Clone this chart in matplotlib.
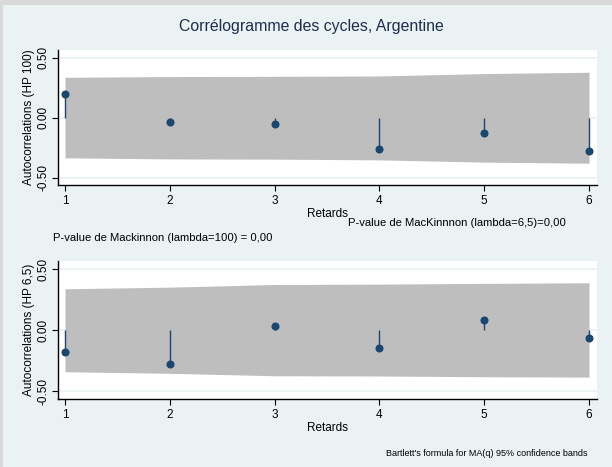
import matplotlib
matplotlib.use("Agg")
import matplotlib.pyplot as plt
from matplotlib.patches import Rectangle

plt.rcParams['font.family'] = ['Liberation Sans', 'DejaVu Sans']

# Data
lags = [1, 2, 3, 4, 5, 6]
ac_hp100 = [0.20, -0.036, -0.053, -0.263, -0.131, -0.279]
band_hi_hp100 = [0.338, 0.344, 0.346, 0.349, 0.369, 0.380]
band_lo_hp100 = [-0.335, -0.344, -0.346, -0.352, -0.371, -0.380]

ac_hp65 = [-0.178, -0.273, 0.036, -0.145, 0.087, -0.066]
band_hi_hp65 = [0.339, 0.352, 0.374, 0.377, 0.383, 0.388]
band_lo_hp65 = [-0.339, -0.352, -0.372, -0.374, -0.380, -0.383]

yticks = [-0.5, 0.0, 0.5]
ytick_labels = ["-0.50", "0.00", "0.50"]

W, H = 612, 467
navy = "#1a476f"
bg = "#eaf2f3"
band = "#bebebe"

fig = plt.figure(figsize=(W / 100, H / 100), dpi=100)
fig.patch.set_facecolor("#d9d9d9")
fig.patches.append(Rectangle((3 / W, 0), 1, (H - 5) / H, transform=fig.transFigure,
                             facecolor=bg, edgecolor="none", zorder=-10))


def px(x, y):
    return x / W, 1 - y / H


def panel(top, bottom, ac, hi, lo, ylabel):
    ax = fig.add_axes([58 / W, 1 - bottom / H, 539 / W, (bottom - top) / H])
    ax.set_zorder(5)
    ax.set_facecolor("white")
    ax.fill_between(lags, lo, hi, color=band, linewidth=0, zorder=2)
    for yv in yticks:
        ax.axhline(yv, color=bg, lw=1.2, zorder=1)
    ax.vlines(lags, 0, ac, color=navy, lw=1.0, zorder=3)
    ax.plot(lags, ac, "o", color=navy, ms=4.8, zorder=4)
    ax.set_xlim(0.933, 6.076)
    ax.set_ylim(-0.562, 0.566)
    ax.set_xticks(lags)
    ax.set_yticks(yticks)
    ax.set_yticklabels(ytick_labels, rotation=90, va="center")
    ax.tick_params(labelsize=8.5, length=4, width=0.8, colors="black", pad=3)
    ax.tick_params(axis="y", pad=2)
    for s in ["top", "right"]:
        ax.spines[s].set_visible(False)
    for s in ["left", "bottom"]:
        ax.spines[s].set_linewidth(1.0)
        ax.spines[s].set_color("black")
    ax.set_xlabel("Retards", fontsize=8.5, labelpad=1)
    ax.set_ylabel(ylabel, fontsize=8.5, labelpad=2)
    return ax


panel(50, 185, ac_hp100, band_hi_hp100, band_lo_hp100, "Autocorrelations (HP 100)")
panel(261, 399, ac_hp65, band_hi_hp65, band_lo_hp65, "Autocorrelations (HP 6,5)")

fig.text(*px(311, 27), "Corrélogramme des cycles, Argentine", ha="center", va="center",
         fontsize=11.4, color="#1e2d4d")
fig.text(*px(348, 223), "P-value de MacKinnnon (lambda=6,5)=0,00", ha="left", va="center",
         fontsize=8.1)
fig.text(*px(53, 238), "P-value de Mackinnon (lambda=100) = 0,00", ha="left", va="center",
         fontsize=8.1)
fig.text(*px(587, 454), "Bartlett's formula for MA(q) 95% confidence bands", ha="right",
         va="center", fontsize=6.5)

fig.savefig("out.png", dpi=100, facecolor=fig.get_facecolor())
